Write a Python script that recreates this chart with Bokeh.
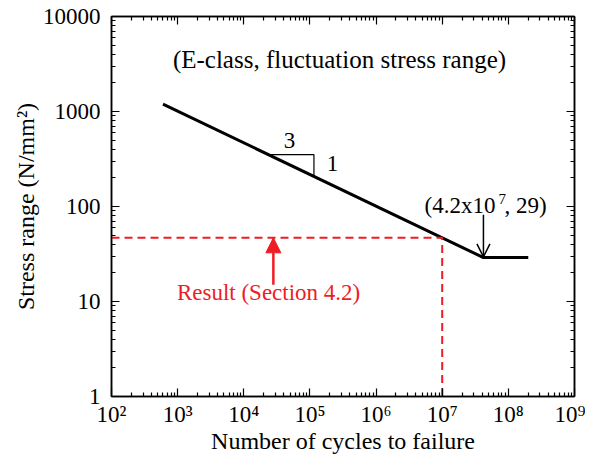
from bokeh.plotting import figure
from bokeh.models import LogAxis, Label, Arrow, NormalHead, OpenHead, FixedTicker
from bokeh.embed import file_html
from bokeh.resources import INLINE

# S-N curve (E-class): slope 3 down to knee, then constant
curve_n = [6e2, 4.2e7, 2.0e8]
curve_s = [1195.0, 29.0, 29.0]

# Result point (Section 4.2)
result_n = 1.0e7
result_s = 46.8

# slope triangle
tri_n = [2.4e4, 1.15e5, 1.15e5]
tri_s = [351.0, 351.0, 205.0]

x_ticks = [1e2, 1e3, 1e4, 1e5, 1e6, 1e7, 1e8, 1e9]
x_tick_labels = ["10²", "10³", "10⁴", "10⁵", "10⁶", "10⁷", "10⁸", "10⁹"]
y_ticks = [1, 10, 100, 1000, 10000]
y_tick_labels = ["1", "10", "100", "1000", "10000"]

FONT = "Liberation Serif"
RED = "#ee1c25"
FS = "23px"

p = figure(width=585, height=460, x_axis_type="log", y_axis_type="log",
           x_range=(1e2, 1e9), y_range=(1, 1e4),
           min_border_left=111, min_border_top=16, min_border_right=11, min_border_bottom=64,
           output_backend="svg", toolbar_location=None)
p.grid.visible = False
p.outline_line_color = "black"
p.outline_line_width = 1.5

def minors(ticks):
    return [d * k for d in ticks[:-1] for k in range(2, 10)]

def style(ax, labels=True):
    ax.axis_line_width = 1.5
    ax.axis_line_color = "black"
    ax.major_tick_in = 8
    ax.major_tick_out = 0
    ax.minor_tick_in = 4
    ax.minor_tick_out = 0
    ax.major_tick_line_width = 1.2
    ax.minor_tick_line_width = 1.2
    ax.major_tick_line_color = "black"
    ax.minor_tick_line_color = "black"
    ax.major_label_text_font = FONT
    ax.major_label_text_font_size = FS
    ax.major_label_text_color = "black"
    ax.axis_label_text_font = FONT
    ax.axis_label_text_font_size = "24px"
    ax.axis_label_text_font_style = "normal"
    ax.axis_label_text_color = "black"
    if not labels:
        ax.major_label_text_font_size = "0px"
        ax.major_label_standoff = 0
        ax.major_label_text_alpha = 0

xa = p.xaxis[0]
ya = p.yaxis[0]
xa.ticker = FixedTicker(ticks=x_ticks, minor_ticks=minors(x_ticks))
ya.ticker = FixedTicker(ticks=y_ticks, minor_ticks=minors(y_ticks))
xa.major_label_overrides = {t: l for t, l in zip(x_ticks, x_tick_labels)}
ya.major_label_overrides = {t: l for t, l in zip(y_ticks, y_tick_labels)}
xa.major_label_standoff = 5
ya.major_label_standoff = 11
xa.axis_label = "Number of cycles to failure"
xa.axis_label_standoff = -2
ya.axis_label = "Stress range (N/mm²)"
ya.axis_label_standoff = 1
style(xa)
style(ya)

top = LogAxis(ticker=FixedTicker(ticks=x_ticks, minor_ticks=minors(x_ticks)))
right = LogAxis(ticker=FixedTicker(ticks=y_ticks, minor_ticks=minors(y_ticks)))
style(top, False)
style(right, False)
p.add_layout(top, "above")
p.add_layout(right, "right")

# main curve
p.line(curve_n, curve_s, line_color="black", line_width=3)

# slope triangle
p.line(tri_n, tri_s, line_color="black", line_width=1.2)

# red dashed lines
p.line([1e2, result_n, result_n], [result_s, result_s, 1], line_color=RED, line_width=2, line_dash="8 5")

# red arrow
p.add_layout(Arrow(end=NormalHead(size=15, fill_color=RED, line_color=RED),
                   x_start=2.8e4, y_start=15.0, x_end=2.8e4, y_end=result_s,
                   line_color=RED, line_width=2.5))

# black arrow to knee
p.add_layout(Arrow(end=OpenHead(size=13, line_color="black", line_width=1.5),
                   x_start=4.2e7, y_start=82, x_end=4.2e7, y_end=29.5,
                   line_color="black", line_width=1.5))

def lab(x, y, text, size=FS, color="black", align="center", baseline="middle", xo=0):
    p.add_layout(Label(x=x, y=y, text=text, text_font=FONT, text_font_size=size,
                       text_color=color, text_align=align, text_baseline=baseline, x_offset=xo))

lab(2.8e5, 3500, "(E-class, fluctuation stress range)", "25px")
lab(4.9e4, 495, "3")
lab(2.2e5, 284, "1")

# knee annotation with superscript
lab(4.2e7, 102, "(4.2x10", align="right", baseline="alphabetic", xo=12)
lab(4.2e7, 121, "7", size="15px", align="left", baseline="alphabetic", xo=15)
lab(4.2e7, 102, ", 29)", align="left", baseline="alphabetic", xo=21)

lab(2.37e4, 12.4, "Result (Section 4.2)", FS, RED)

open("out.html", "w").write(file_html(p, INLINE))
